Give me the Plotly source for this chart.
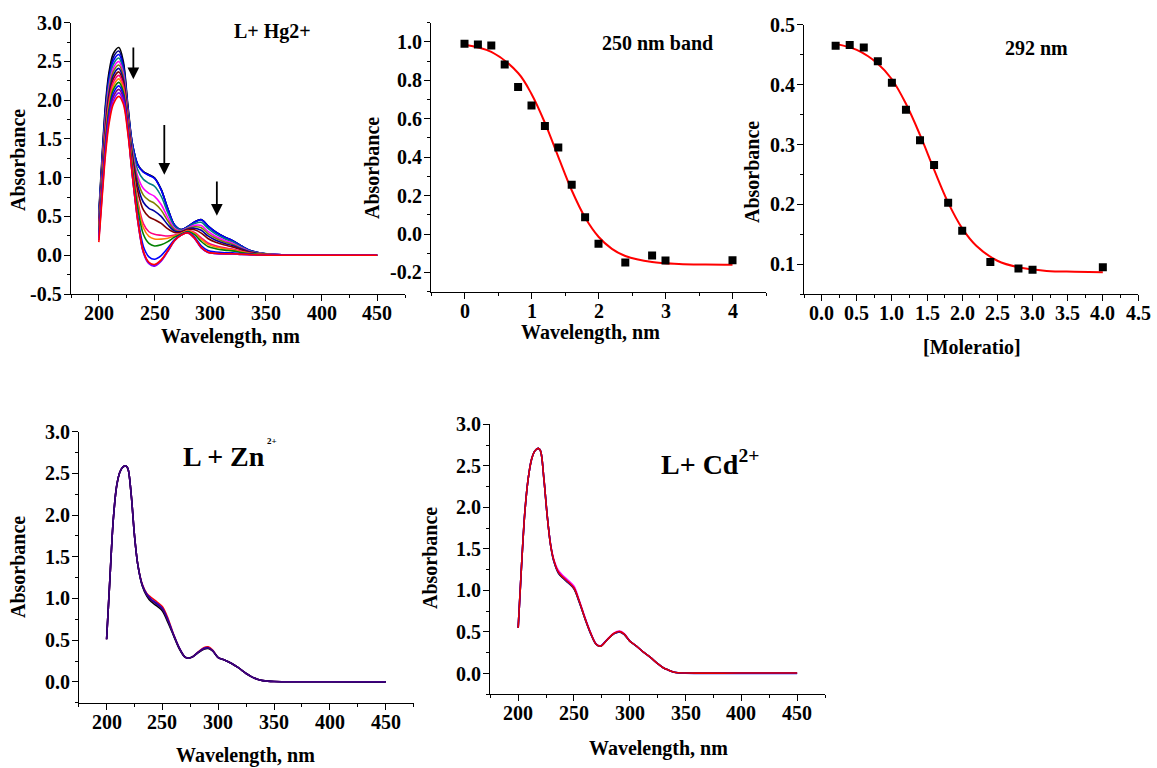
import plotly.graph_objects as go

# ---------------- DATA ----------------
# Panel 1: L + Hg2+ titration spectra (wavelength grid shared by all curves)
HG_WL = [200, 203, 206, 209, 213, 218, 222, 226, 230, 235, 240, 245, 250, 256, 262, 268, 274,
         280, 286, 292, 298, 305, 313, 320, 328, 336, 345, 360, 450]
HG_A00 = [0.55, 1.30, 1.95, 2.35, 2.60, 2.68, 2.50, 1.95, 1.45, 1.17, 1.08, 1.04, 1.00, 0.85, 0.60, 0.39, 0.33, 0.37, 0.43, 0.46, 0.38, 0.30, 0.235, 0.19, 0.12, 0.06, 0.03, 0.01, 0.0]
HG_A01 = [0.523, 1.261, 1.904, 2.302, 2.554, 2.635, 2.461, 1.924, 1.448, 1.167, 1.076, 1.035, 0.996, 0.846, 0.598, 0.389, 0.33, 0.37, 0.429, 0.459, 0.379, 0.299, 0.234, 0.189, 0.12, 0.06, 0.03, 0.01, 0.0]
HG_A02 = [0.496, 1.221, 1.857, 2.254, 2.507, 2.59, 2.421, 1.897, 1.446, 1.164, 1.071, 1.03, 0.99, 0.842, 0.595, 0.388, 0.329, 0.369, 0.428, 0.457, 0.377, 0.298, 0.233, 0.188, 0.119, 0.06, 0.03, 0.01, 0.0]
HG_A03 = [0.469, 1.182, 1.811, 2.207, 2.461, 2.545, 2.382, 1.871, 1.411, 1.099, 0.979, 0.929, 0.89, 0.761, 0.547, 0.37, 0.323, 0.362, 0.409, 0.425, 0.347, 0.273, 0.214, 0.173, 0.109, 0.055, 0.027, 0.009, 0.0]
HG_A04 = [0.441, 1.143, 1.764, 2.158, 2.414, 2.50, 2.343, 1.844, 1.364, 1.016, 0.86, 0.798, 0.76, 0.655, 0.484, 0.347, 0.315, 0.353, 0.385, 0.383, 0.307, 0.241, 0.189, 0.154, 0.097, 0.049, 0.024, 0.008, 0.0]
HG_A05 = [0.414, 1.104, 1.718, 2.111, 2.368, 2.455, 2.304, 1.818, 1.332, 0.958, 0.776, 0.707, 0.67, 0.582, 0.441, 0.331, 0.309, 0.346, 0.368, 0.354, 0.28, 0.219, 0.172, 0.14, 0.088, 0.045, 0.022, 0.007, 0.0]
HG_A06 = [0.387, 1.064, 1.671, 2.063, 2.321, 2.41, 2.264, 1.791, 1.296, 0.894, 0.684, 0.606, 0.57, 0.501, 0.393, 0.313, 0.303, 0.339, 0.349, 0.322, 0.249, 0.194, 0.152, 0.125, 0.079, 0.04, 0.02, 0.006, 0.0]
HG_A07 = [0.36, 1.025, 1.625, 2.015, 2.275, 2.365, 2.225, 1.765, 1.257, 0.823, 0.584, 0.495, 0.46, 0.411, 0.34, 0.294, 0.296, 0.331, 0.329, 0.286, 0.216, 0.167, 0.131, 0.108, 0.068, 0.035, 0.017, 0.005, 0.0]
HG_A08 = [0.333, 0.986, 1.579, 1.967, 2.229, 2.32, 2.186, 1.739, 1.189, 0.701, 0.408, 0.303, 0.27, 0.257, 0.248, 0.26, 0.284, 0.318, 0.293, 0.225, 0.158, 0.121, 0.095, 0.079, 0.05, 0.026, 0.012, 0.003, 0.0]
HG_A09 = [0.306, 0.946, 1.532, 1.919, 2.182, 2.275, 2.146, 1.712, 1.168, 0.662, 0.354, 0.243, 0.21, 0.208, 0.219, 0.249, 0.281, 0.314, 0.282, 0.206, 0.14, 0.106, 0.083, 0.07, 0.044, 0.023, 0.011, 0.003, 0.0]
HG_A10 = [0.279, 0.907, 1.486, 1.872, 2.136, 2.23, 2.107, 1.686, 1.136, 0.604, 0.27, 0.152, 0.12, 0.135, 0.176, 0.233, 0.275, 0.307, 0.265, 0.177, 0.113, 0.084, 0.066, 0.056, 0.035, 0.019, 0.009, 0.002, 0.0]
HG_A11 = [0.251, 0.868, 1.439, 1.823, 2.089, 2.185, 2.068, 1.659, 1.075, 0.495, 0.114, -0.02, -0.051, -0.004, 0.093, 0.202, 0.264, 0.295, 0.233, 0.122, 0.061, 0.042, 0.033, 0.031, 0.019, 0.011, 0.005, 0.001, 0.0]
HG_A12 = [0.224, 0.829, 1.393, 1.776, 2.043, 2.14, 2.029, 1.633, 1.046, 0.444, 0.041, -0.10, -0.13, -0.068, 0.055, 0.188, 0.259, 0.289, 0.218, 0.097, 0.037, 0.023, 0.018, 0.018, 0.011, 0.008, 0.003, 0.0, 0.0]
HG_A13 = [0.197, 0.789, 1.346, 1.728, 1.996, 2.095, 1.989, 1.606, 1.043, 0.437, 0.031, -0.11, -0.14, -0.076, 0.05, 0.186, 0.259, 0.289, 0.216, 0.094, 0.034, 0.02, 0.016, 0.017, 0.01, 0.007, 0.003, 0.0, 0.0]
HG_A14 = [0.17, 0.75, 1.30, 1.68, 1.95, 2.05, 1.95, 1.58, 1.05, 0.45, 0.05, -0.09, -0.12, -0.06, 0.06, 0.19, 0.26, 0.29, 0.22, 0.10, 0.04, 0.025, 0.02, 0.02, 0.012, 0.008, 0.003, 0.0, 0.0]
HG_COLORS = ["#000000", "#000080", "#0000FF", "#008080", "#FF00FF", "#808000", "#0000A0",
             "#800000", "#FF0080", "#FF8000", "#008000", "#0000FF", "#800080", "#8000FF", "#FF0000"]

# Panel 2: 250 nm band
R250_X = [0, 0.2, 0.4, 0.6, 0.8, 1.0, 1.2, 1.4, 1.6, 1.8, 2.0, 2.4, 2.8, 3.0, 4.0]
R250_Y = [0.99, 0.986, 0.981, 0.882, 0.765, 0.669, 0.562, 0.451, 0.257, 0.087, -0.051, -0.148, -0.112, -0.138, -0.136]
FIT250_X = [0, 0.4, 0.8, 1.0, 1.2, 1.4, 1.6, 1.8, 2.0, 2.2, 2.4, 2.8, 3.2, 3.6, 4.0]
FIT250_Y = [0.985, 0.948, 0.838, 0.729, 0.579, 0.402, 0.228, 0.086, -0.014, -0.077, -0.114, -0.146, -0.156, -0.159, -0.160]

# Panel 3: 292 nm
R292_X = [0.2, 0.4, 0.6, 0.8, 1.0, 1.2, 1.4, 1.6, 1.8, 2.0, 2.4, 2.8, 3.0, 4.0]
R292_Y = [0.465, 0.466, 0.462, 0.439, 0.403, 0.358, 0.307, 0.266, 0.203, 0.156, 0.104, 0.093, 0.091, 0.095]
FIT292_X = [0.2, 0.5, 0.8, 1.0, 1.2, 1.4, 1.6, 1.8, 2.0, 2.2, 2.5, 2.8, 3.2, 3.6, 4.0]
FIT292_Y = [0.468, 0.458, 0.435, 0.409, 0.368, 0.316, 0.258, 0.203, 0.160, 0.131, 0.106, 0.095, 0.089, 0.0877, 0.087]

# Panel 4: L + Zn2+
ZN_WL = [200, 203, 206, 209, 212, 215, 217, 219, 222, 225, 228, 232, 236, 240, 245, 250, 255, 260, 265,
         270, 273, 277, 282, 287, 291, 295, 300, 306, 312, 318, 325, 330, 335, 340, 350, 400, 450]
ZN_RED = [0.51, 1.25, 1.95, 2.35, 2.52, 2.58, 2.59, 2.56, 2.25, 1.75, 1.40, 1.17, 1.06, 1.01, 0.96, 0.90, 0.76, 0.57, 0.41, 0.30, 0.285, 0.30, 0.36, 0.41, 0.42, 0.38, 0.29, 0.26, 0.22, 0.17, 0.10, 0.06, 0.03, 0.015, 0.005, 0.002, 0.0]
ZN_BLUE = [0.51, 1.25, 1.95, 2.35, 2.52, 2.58, 2.59, 2.56, 2.25, 1.75, 1.40, 1.16, 1.05, 0.99, 0.94, 0.88, 0.74, 0.565, 0.41, 0.30, 0.285, 0.30, 0.355, 0.40, 0.41, 0.375, 0.29, 0.26, 0.22, 0.17, 0.10, 0.06, 0.03, 0.015, 0.005, 0.002, 0.0]
ZN_BLACK = [0.51, 1.25, 1.95, 2.35, 2.52, 2.58, 2.59, 2.56, 2.25, 1.75, 1.40, 1.15, 1.03, 0.96, 0.91, 0.85, 0.71, 0.555, 0.40, 0.30, 0.285, 0.30, 0.35, 0.39, 0.40, 0.37, 0.29, 0.26, 0.22, 0.17, 0.10, 0.06, 0.03, 0.015, 0.005, 0.002, 0.0]
ZN_PURPLE = [0.51, 1.25, 1.95, 2.35, 2.52, 2.58, 2.59, 2.56, 2.25, 1.75, 1.40, 1.155, 1.04, 0.98, 0.93, 0.87, 0.73, 0.56, 0.405, 0.30, 0.285, 0.30, 0.352, 0.395, 0.405, 0.372, 0.29, 0.26, 0.22, 0.17, 0.10, 0.06, 0.03, 0.015, 0.005, 0.002, 0.0]

# Panel 5: L + Cd2+
CD_WL = [200, 203, 206, 209, 212, 215, 218, 220, 223, 226, 229, 232, 236, 240, 245, 250, 255, 260, 265,
         270, 274, 280, 286, 291, 295, 300, 306, 312, 318, 325, 330, 335, 340, 350, 400, 450]
CD_MAGENTA = [0.55, 1.30, 1.95, 2.35, 2.58, 2.68, 2.71, 2.68, 2.35, 1.90, 1.56, 1.37, 1.24, 1.18, 1.12, 1.05, 0.87, 0.67, 0.49, 0.355, 0.335, 0.415, 0.49, 0.51, 0.48, 0.395, 0.33, 0.26, 0.20, 0.12, 0.07, 0.04, 0.015, 0.006, 0.006, 0.006]
CD_BLACK = [0.55, 1.30, 1.95, 2.35, 2.58, 2.68, 2.71, 2.68, 2.35, 1.90, 1.55, 1.35, 1.21, 1.15, 1.09, 1.02, 0.85, 0.655, 0.48, 0.35, 0.33, 0.41, 0.48, 0.50, 0.47, 0.39, 0.33, 0.26, 0.20, 0.12, 0.07, 0.04, 0.015, 0.005, 0.004, 0.004]
CD_BLUE = [0.55, 1.30, 1.95, 2.35, 2.58, 2.68, 2.71, 2.68, 2.35, 1.90, 1.55, 1.35, 1.215, 1.155, 1.095, 1.025, 0.855, 0.657, 0.48, 0.35, 0.33, 0.41, 0.48, 0.50, 0.47, 0.39, 0.33, 0.26, 0.20, 0.12, 0.07, 0.04, 0.015, 0.004, 0.002, 0.002]
CD_RED = [0.55, 1.30, 1.95, 2.35, 2.58, 2.68, 2.71, 2.68, 2.35, 1.90, 1.55, 1.36, 1.22, 1.16, 1.10, 1.03, 0.86, 0.66, 0.485, 0.35, 0.33, 0.41, 0.485, 0.505, 0.475, 0.39, 0.33, 0.26, 0.20, 0.12, 0.07, 0.04, 0.015, 0.006, 0.006, 0.006]

# Tick labels
WL_TICKS = [200, 250, 300, 350, 400, 450]
WL_TICK_LABELS = ["200", "250", "300", "350", "400", "450"]
HG_Y_TICKS = [-0.5, 0.0, 0.5, 1.0, 1.5, 2.0, 2.5, 3.0]
HG_Y_LABELS = ["-0.5", "0.0", "0.5", "1.0", "1.5", "2.0", "2.5", "3.0"]
P2_X_TICKS = [0, 1, 2, 3, 4]
P2_X_LABELS = ["0", "1", "2", "3", "4"]
P2_Y_TICKS = [-0.2, 0.0, 0.2, 0.4, 0.6, 0.8, 1.0]
P2_Y_LABELS = ["-0.2", "0.0", "0.2", "0.4", "0.6", "0.8", "1.0"]
P3_X_TICKS = [0.0, 0.5, 1.0, 1.5, 2.0, 2.5, 3.0, 3.5, 4.0, 4.5]
P3_X_LABELS = ["0.0", "0.5", "1.0", "1.5", "2.0", "2.5", "3.0", "3.5", "4.0", "4.5"]
P3_Y_TICKS = [0.1, 0.2, 0.3, 0.4, 0.5]
P3_Y_LABELS = ["0.1", "0.2", "0.3", "0.4", "0.5"]
LOW_Y_TICKS = [0.0, 0.5, 1.0, 1.5, 2.0, 2.5, 3.0]
LOW_Y_LABELS = ["0.0", "0.5", "1.0", "1.5", "2.0", "2.5", "3.0"]

# ---------------- FIGURE ----------------
W, H = 1157, 768
FONT = "Liberation Serif"


def px(x):
    return x / W


def py(y):
    return 1 - y / H


fig = go.Figure()

HG_SERIES = [HG_A00, HG_A01, HG_A02, HG_A03, HG_A04, HG_A05, HG_A06, HG_A07,
             HG_A08, HG_A09, HG_A10, HG_A11, HG_A12, HG_A13, HG_A14]
for vals, col in zip(HG_SERIES, HG_COLORS):
    fig.add_trace(go.Scatter(x=HG_WL, y=vals, mode="lines", xaxis="x", yaxis="y",
                             line=dict(color=col, width=1.6, shape="spline", smoothing=0.9),
                             showlegend=False, hoverinfo="skip"))

fig.add_trace(go.Scatter(x=FIT250_X, y=FIT250_Y, mode="lines", xaxis="x2", yaxis="y2",
                         line=dict(color="#FF0000", width=2, shape="spline"), showlegend=False))
fig.add_trace(go.Scatter(x=R250_X, y=R250_Y, mode="markers", xaxis="x2", yaxis="y2",
                         marker=dict(symbol="square", size=8, color="black"), showlegend=False))

fig.add_trace(go.Scatter(x=FIT292_X, y=FIT292_Y, mode="lines", xaxis="x3", yaxis="y3",
                         line=dict(color="#FF0000", width=2, shape="spline"), showlegend=False))
fig.add_trace(go.Scatter(x=R292_X, y=R292_Y, mode="markers", xaxis="x3", yaxis="y3",
                         marker=dict(symbol="square", size=8, color="black"), showlegend=False))

for vals, col in [(ZN_RED, "#FF0000"), (ZN_BLUE, "#0000FF"), (ZN_BLACK, "#000000"), (ZN_PURPLE, "#400080")]:
    fig.add_trace(go.Scatter(x=ZN_WL, y=vals, mode="lines", xaxis="x4", yaxis="y4",
                             line=dict(color=col, width=1.6, shape="spline", smoothing=0.9),
                             showlegend=False))

for vals, col in [(CD_MAGENTA, "#FF00FF"), (CD_BLACK, "#000000"), (CD_BLUE, "#0000FF"), (CD_RED, "#E00000")]:
    fig.add_trace(go.Scatter(x=CD_WL, y=vals, mode="lines", xaxis="x5", yaxis="y5",
                             line=dict(color=col, width=1.6, shape="spline", smoothing=0.9),
                             showlegend=False))


def ax(domain, rng, ticks, mtick0, mtick, anchor):
    return dict(domain=domain, range=rng, tickmode="array", tickvals=ticks, showticklabels=False,
                showline=True, linecolor="black", linewidth=1.3, mirror=False,
                ticks="outside", ticklen=6, tickwidth=1.3, tickcolor="black",
                minor=dict(tick0=mtick0, dtick=mtick, ticks="outside", ticklen=3, tickwidth=1.2, tickcolor="black"),
                showgrid=False, zeroline=False, anchor=anchor)


fig.update_layout(
    width=W, height=H, margin=dict(l=0, r=0, t=0, b=0),
    paper_bgcolor="white", plot_bgcolor="white",
    font=dict(family=FONT, size=20, color="black"),
    xaxis=ax([px(71), px(405)], [175, 475], WL_TICKS, 0, 25, "y"),
    yaxis=ax([py(294), py(22.7)], [-0.5, 3.0], HG_Y_TICKS, 0, 0.25, "x"),
    xaxis2=ax([px(431), px(766)], [-0.5, 4.5], P2_X_TICKS, 0, 0.5, "y2"),
    yaxis2=ax([py(291.7), py(22.7)], [-0.3, 1.1], P2_Y_TICKS, 0, 0.1, "x2"),
    xaxis3=ax([px(804), px(1138)], [-0.25, 4.5], P3_X_TICKS, 0, 0.25, "y3"),
    yaxis3=ax([py(294.3), py(24.7)], [0.05, 0.5], P3_Y_TICKS, 0, 0.05, "x3"),
    xaxis4=ax([px(78.7), px(413.6)], [175, 475], WL_TICKS, 0, 25, "y4"),
    yaxis4=ax([py(702.7), py(431.7)], [-0.25, 3.0], LOW_Y_TICKS, 0, 0.25, "x4"),
    xaxis5=ax([px(490.3), px(825)], [175, 475], WL_TICKS, 0, 25, "y5"),
    yaxis5=ax([py(694.3), py(424.3)], [-0.25, 3.0], LOW_Y_TICKS, 0, 0.25, "x5"),
)

tickfont = dict(family=FONT, size=20, color="black", weight=700)


def xlabels(xref, vals, texts, axis_py):
    for v, t in zip(vals, texts):
        fig.add_annotation(text=t, x=v, y=py(axis_py + 19), xref=xref, yref="paper",
                           showarrow=False, font=tickfont, xanchor="center", yanchor="middle")


def ylabels(yref, vals, texts, axis_px):
    for v, t in zip(vals, texts):
        fig.add_annotation(text=t, x=px(axis_px - 7), y=v, xref="paper", yref=yref,
                           showarrow=False, font=tickfont, xanchor="right", yanchor="middle")


xlabels("x", WL_TICKS, WL_TICK_LABELS, 294)
ylabels("y", HG_Y_TICKS, HG_Y_LABELS, 71)
xlabels("x2", P2_X_TICKS, P2_X_LABELS, 291.7)
ylabels("y2", P2_Y_TICKS, P2_Y_LABELS, 431)
xlabels("x3", P3_X_TICKS, P3_X_LABELS, 294.3)
ylabels("y3", P3_Y_TICKS, P3_Y_LABELS, 804)
xlabels("x4", WL_TICKS, WL_TICK_LABELS, 702.7)
ylabels("y4", LOW_Y_TICKS, LOW_Y_LABELS, 78.7)
xlabels("x5", WL_TICKS, WL_TICK_LABELS, 694.3)
ylabels("y5", LOW_Y_TICKS, LOW_Y_LABELS, 490.3)

lab = dict(family=FONT, size=20, color="black", weight=700)
annots = [
    ("Wavelength, nm", 230.7, 337, 0),
    ("Absorbance", 18, 160, -90),
    ("Wavelength, nm", 590.7, 332, 0),
    ("Absorbance", 372, 168, -90),
    ("[Moleratio]", 971.7, 347, 0),
    ("Absorbance", 752, 172, -90),
    ("Wavelength, nm", 245.8, 755, 0),
    ("Absorbance", 18, 567, -90),
    ("Wavelength, nm", 658.7, 748, 0),
    ("Absorbance", 430, 558, -90),
    ("L+ Hg2+", 272.5, 31, 0),
    ("250 nm band", 657, 43, 0),
    ("292 nm", 1036.5, 47.5, 0),
]
for text, x, y, ang in annots:
    fig.add_annotation(text=text, x=px(x), y=py(y), xref="paper", yref="paper",
                       showarrow=False, textangle=ang, font=lab,
                       xanchor="center", yanchor="middle")

big = dict(family=FONT, size=28, color="black", weight=700)
fig.add_annotation(text="L + Zn", x=px(224), y=py(456), xref="paper", yref="paper",
                   showarrow=False, font=big, xanchor="center", yanchor="middle")
fig.add_annotation(text="2+", x=px(272), y=py(441), xref="paper", yref="paper",
                   showarrow=False, font=dict(family=FONT, size=9, color="black", weight=700),
                   xanchor="center", yanchor="middle")
fig.add_annotation(text="L+ Cd<sup>2+</sup>", x=px(659), y=py(462), xref="paper", yref="paper",
                   showarrow=False, font=big, xanchor="left", yanchor="middle")

# arrows in panel 1
for (xh, yh, yt) in [(231, 2.27, 2.70), (258.8, 1.04, 1.70), (306, 0.51, 0.97)]:
    fig.add_annotation(x=xh, y=yh, ax=xh, ay=yt, xref="x", yref="y", axref="x", ayref="y",
                       showarrow=True, arrowhead=2, arrowsize=1.3, arrowwidth=1.8,
                       arrowcolor="black", text="")

fig.write_html("out.html")
